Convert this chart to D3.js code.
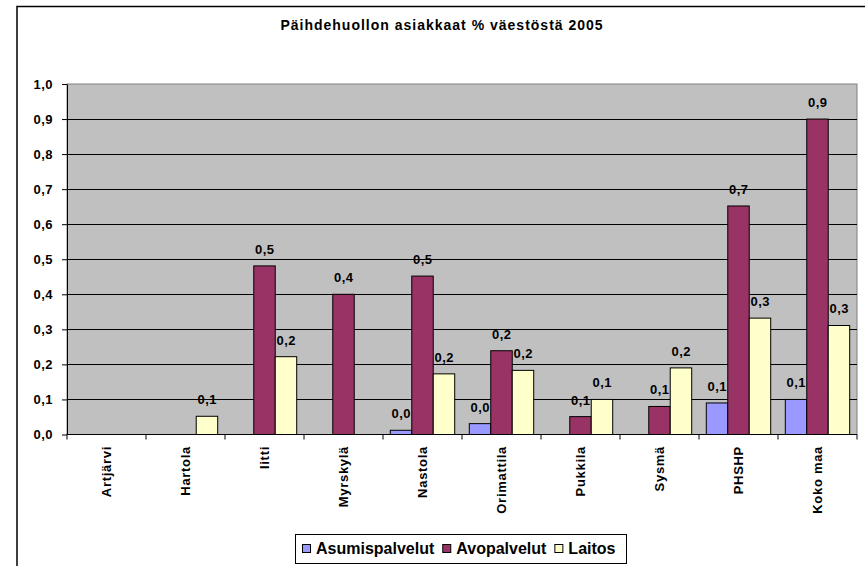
<!DOCTYPE html>
<html>
<head>
<meta charset="utf-8">
<script src="https://cdn.jsdelivr.net/npm/d3@7"></script>
<style>
  body { margin: 0; background: #fff; }
  svg { display: block; font-family: Arial, "Liberation Sans", sans-serif; }
</style>
</head>
<body>
<svg width="865" height="566"></svg>
<script>
// Data
const categories = ["Artjärvi", "Hartola", "Iitti", "Myrskylä", "Nastola", "Orimattila", "Pukkila", "Sysmä", "PHSHP", "Koko maa"];
const seriesNames = ["Asumispalvelut", "Avopalvelut", "Laitos"];
const asumispalvelut = [null, null, null, null, 0.012, 0.031, null, null, 0.09, 0.10];
const avopalvelut = [null, null, 0.481, 0.40, 0.452, 0.239, 0.051, 0.08, 0.652, 0.90];
const laitos = [null, 0.052, 0.222, null, 0.173, 0.183, 0.10, 0.19, 0.332, 0.311];
const yTicks = [0, 0.1, 0.2, 0.3, 0.4, 0.5, 0.6, 0.7, 0.8, 0.9, 1.0];
const title = "Päihdehuollon asiakkaat % väestöstä 2005";

const colors = ["#9999FF", "#993366", "#FFFFCC"];
const seriesValues = [asumispalvelut, avopalvelut, laitos];

// plot area
const plot = { left: 67, right: 857, top: 84, bottom: 434.5 };
const fmt = v => d3.format(".1f")(v).replace(".", ",");

const svg = d3.select("svg");

// outer chart border (runs off the right/bottom edges)
svg.append("rect")
  .attr("x", 17).attr("y", 6.5)
  .attr("width", 900).attr("height", 600)
  .attr("fill", "#fff").attr("stroke", "#000").attr("stroke-width", 1.5);

// title
svg.append("text")
  .attr("x", 442).attr("y", 30)
  .attr("text-anchor", "middle")
  .style("font-size", "14px").style("font-weight", "bold")
  .style("letter-spacing", "1px")
  .text(title);

// scales
const x = d3.scaleBand()
  .domain(categories)
  .range([plot.left, plot.right])
  .padding(0);

const xSub = d3.scaleBand()
  .domain(seriesNames)
  .range([0, x.bandwidth()])
  .paddingInner(0)
  .paddingOuter(0.34);

const y = d3.scaleLinear()
  .domain([0, 1])
  .range([plot.bottom, plot.top]);

// plot background
svg.append("rect")
  .attr("x", plot.left).attr("y", plot.top)
  .attr("width", plot.right - plot.left).attr("height", plot.bottom - plot.top)
  .attr("fill", "#C0C0C0").attr("stroke", "#808080").attr("stroke-width", 1);

// gridlines
svg.append("g")
  .selectAll("line")
  .data(yTicks.filter(t => t > 0 && t < 1))
  .join("line")
  .attr("x1", plot.left).attr("x2", plot.right)
  .attr("y1", d => Math.round(y(d)) + 0.5).attr("y2", d => Math.round(y(d)) + 0.5)
  .attr("stroke", "#000").attr("stroke-width", 1);

// y axis
const yAxis = svg.append("g")
  .attr("transform", `translate(${plot.left},0)`)
  .call(d3.axisLeft(y).tickValues(yTicks).tickFormat(fmt).tickSize(5).tickSizeOuter(0).tickPadding(9));
yAxis.select(".domain").attr("stroke", "#000");
yAxis.selectAll(".tick line").attr("stroke", "#000");
yAxis.selectAll("text")
  .attr("fill", "#000")
  .style("font-size", "13px").style("font-weight", "bold")
  .style("letter-spacing", "0.5px")
  .style("font-family", "Arial, 'Liberation Sans', sans-serif");

// bars
const groups = svg.append("g")
  .selectAll("g")
  .data(categories)
  .join("g")
  .attr("transform", d => `translate(${x(d)},0)`);

groups.selectAll("rect")
  .data((c, i) => seriesNames.map((s, k) => ({ s, k, v: seriesValues[k][i] })).filter(d => d.v != null))
  .join("rect")
  .attr("x", d => xSub(d.s))
  .attr("y", d => y(d.v))
  .attr("width", xSub.bandwidth())
  .attr("height", d => y(0) - y(d.v))
  .attr("fill", d => colors[d.k])
  .attr("stroke", "#000").attr("stroke-width", 1);

// data labels
groups.selectAll("text")
  .data((c, i) => seriesNames.map((s, k) => ({ s, k, v: seriesValues[k][i] })).filter(d => d.v != null))
  .join("text")
  .attr("x", d => xSub(d.s) + xSub.bandwidth() / 2 + 0.3)
  .attr("y", d => y(d.v) - 12)
  .attr("text-anchor", "middle")
  .style("font-size", "13px").style("font-weight", "bold")
  .style("letter-spacing", "0.5px")
  .text(d => fmt(d.v));

// x axis line and category ticks
svg.append("line")
  .attr("x1", plot.left).attr("x2", plot.right)
  .attr("y1", plot.bottom).attr("y2", plot.bottom)
  .attr("stroke", "#000");

const boundaries = categories.map(c => x(c)).concat([x.range()[1]]);
svg.append("g")
  .selectAll("line")
  .data(boundaries)
  .join("line")
  .attr("x1", d => d).attr("x2", d => d)
  .attr("y1", plot.bottom).attr("y2", plot.bottom + 5)
  .attr("stroke", "#000");

// category labels, rotated
svg.append("g")
  .selectAll("text")
  .data(categories)
  .join("text")
  .attr("transform", d => `translate(${x(d) + x.bandwidth() / 2},446) rotate(-90)`)
  .attr("text-anchor", "end")
  .attr("dy", "0.35em")
  .style("font-size", "13px").style("font-weight", "bold")
  .style("letter-spacing", "0.7px")
  .text(d => d);

// legend
const legend = svg.append("g");
legend.append("rect")
  .attr("x", 295.5).attr("y", 534.5)
  .attr("width", 331).attr("height", 29)
  .attr("fill", "#fff").attr("stroke", "#000").attr("stroke-width", 1);

let lx = 302;
seriesNames.forEach((name, k) => {
  legend.append("rect")
    .attr("x", lx + 0.5).attr("y", 544.5)
    .attr("width", 8).attr("height", 8)
    .attr("fill", colors[k]).attr("stroke", "#000").attr("stroke-width", 1);
  const t = legend.append("text")
    .attr("x", lx + 14).attr("y", 554)
    .style("font-size", "16px").style("font-weight", "bold")
    .text(name);
  lx += 14 + t.node().getComputedTextLength() + 8;
});
</script>
</body>
</html>
